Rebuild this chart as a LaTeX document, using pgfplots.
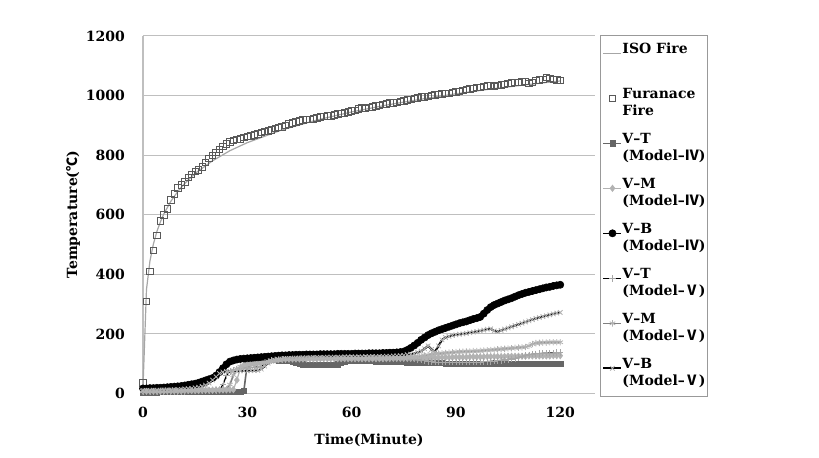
\documentclass[border=0pt]{standalone}
\usepackage{pgfplots}
\pgfplotsset{compat=1.18}
\usepackage{pgfplotstable}
\usepackage{fontspec}
\setmainfont{DejaVu Serif}
\newfontfamily\cjk{Noto Sans CJK KR}
\definecolor{isogray}{HTML}{A6A6A6}
\definecolor{gridgray}{HTML}{BFBFBF}
\pgfplotstableread{
t furn vt4 vm4 vb4 vt5 vm5 vb5
0 35 4 8 17 6 8 10
1 310 4 8 17 6 8 10
2 410 4 8 18 6 8 10
3 480 4 8 18 6 8 11
4 530 4 8 19 6 8 11
5 580 5 8 19 6 9 11
6 600 5 9 20 6 9 12
7 620 5 9 21 7 9 12
8 650 5 9 22 7 9 12
9 670 5 9 23 7 9 13
10 690 5 9 24 7 9 13
11 700 5 9 25 7 10 14
12 710 5 10 27 7 10 15
13 725 5 10 29 8 10 16
14 735 5 10 31 8 10 17
15 745 5 10 33 8 10 19
16 750 6 10 36 8 11 21
17 760 6 11 40 9 11 24
18 775 6 11 44 9 11 28
19 790 6 11 48 9 12 35
20 800 6 11 52 10 12 45
21 810 6 12 60 10 13 56
22 820 6 12 72 11 13 67
23 830 6 12 85 30 14 72
24 838 6 12 98 60 15 74
25 845 7 13 107 74 30 75
26 850 7 13 111 79 62 75
27 852 7 45 114 82 82 75
28 855 7 85 116 84 90 76
29 860 8 95 117 85 94 76
30 862 100 98 118 86 96 76
31 865 105 100 119 87 97 77
32 868 108 102 120 88 98 77
33 872 110 104 121 89 99 78
34 876 111 106 122 92 100 82
35 880 112 108 123 100 104 92
36 882 112 110 124 106 108 102
37 885 112 112 125 110 111 108
38 890 112 113 126 112 113 111
39 893 111 114 127 113 114 114
40 895 111 115 128 114 115 116
41 900 110 116 128 114 115 117
42 905 110 116 129 115 115 118
43 908 108 116 129 115 116 118
44 912 105 116 130 115 116 119
45 915 100 116 130 115 116 119
46 918 98 116 130 116 116 120
47 920 97 116 131 116 116 120
48 920 97 116 131 116 117 120
49 922 96 116 131 116 117 121
50 925 96 116 131 116 117 121
51 928 96 117 132 116 117 121
52 930 96 117 132 116 117 121
53 932 96 117 132 116 117 122
54 932 97 117 132 116 117 122
55 935 97 117 132 116 118 122
56 938 98 117 133 116 118 122
57 940 105 117 133 116 118 122
58 942 108 117 133 116 118 123
59 945 109 117 133 116 118 123
60 948 110 117 133 116 118 123
61 950 110 117 134 116 118 123
62 955 110 117 134 116 118 123
63 958 110 117 134 116 118 123
64 956 109 117 134 116 118 124
65 960 109 117 135 116 119 124
66 962 109 117 135 116 119 124
67 965 108 117 135 116 119 124
68 968 108 117 135 117 119 124
69 970 108 117 136 117 119 125
70 972 107 117 136 117 119 125
71 975 107 118 137 117 119 125
72 976 107 118 137 117 119 126
73 978 106 118 138 117 119 126
74 980 106 118 139 117 120 127
75 982 106 118 141 117 120 128
76 985 105 118 146 117 120 130
77 988 105 118 153 116 121 132
78 990 104 118 161 115 122 134
79 992 104 118 170 114 123 138
80 995 103 118 180 112 125 142
81 996 103 118 188 110 127 150
82 998 103 119 196 108 129 160
83 1000 102 119 202 107 131 148
84 1002 102 120 207 106 133 140
85 1003 102 120 212 106 134 160
86 1005 102 121 216 105 135 180
87 1007 101 121 220 105 136 188
88 1008 101 121 224 105 137 192
89 1010 101 122 228 105 138 195
90 1012 101 122 232 105 139 197
91 1015 100 122 236 105 140 199
92 1018 100 122 239 105 140 200
93 1020 100 122 242 105 141 202
94 1022 100 123 246 105 141 204
95 1025 100 123 250 105 142 206
96 1027 100 123 253 106 142 208
97 1028 100 123 257 106 143 210
98 1030 100 123 268 107 144 213
99 1032 100 124 280 107 145 216
100 1034 100 124 290 108 146 217
101 1030 100 124 297 109 147 210
102 1035 100 124 302 110 148 208
103 1036 100 124 307 111 149 212
104 1038 100 124 312 112 150 216
105 1040 100 125 316 114 151 220
106 1042 100 125 320 116 152 224
107 1044 100 125 325 118 153 228
108 1045 100 125 330 121 154 232
109 1046 100 125 334 125 155 236
110 1048 100 125 338 128 156 240
111 1040 100 126 341 130 160 244
112 1045 100 126 344 132 166 248
113 1050 100 126 347 133 169 252
114 1052 100 126 350 134 170 255
115 1055 100 126 353 135 171 258
116 1060 100 126 356 135 171 261
117 1058 100 126 358 136 172 264
118 1055 100 127 361 136 172 267
119 1052 100 127 363 137 172 270
120 1050 100 127 365 137 172 272
}\data
\pgfplotstableread{
t iso
0 20
1 349
2 445
3 502
4 544
5 576
6 603
8 645
10 678
12 705
15 739
20 781
25 815
30 842
40 885
50 918
60 945
70 968
80 988
90 1006
100 1022
110 1036
120 1049
}\iso
\newcommand{\two}[2]{\begin{tabular}[t]{@{}l@{}}#1\\#2\end{tabular}}
\begin{document}
\begin{tikzpicture}[font=\fontsize{7}{8.5}\selectfont\bfseries]
\useasboundingbox (-71.5pt,-32.25pt) rectangle (338pt,196.75pt);
\begin{axis}[
  at={(0,0)}, anchor=south west, scale only axis,
  width=226pt, height=178.75pt,
  xmin=0, xmax=130, ymin=0, ymax=1200,
  xtick={0,30,60,90,120}, ytick={0,200,400,600,800,1000,1200},
  axis lines*=left,
  axis line style={draw=gridgray, line width=0.6pt, -},
  ymajorgrids, grid style={gridgray, line width=0.5pt},
  major tick length=0pt,
  /pgf/number format/assume math mode=true,
  /pgf/number format/1000 sep={},
  xticklabel style={yshift=-3.5pt},
  yticklabel style={xshift=-5.5pt},
  xlabel={Time(Minute)},
  ylabel={Temperature({\cjk ℃})},
  xlabel style={at={(axis description cs:0.5,-0.13)}, anchor=center},
  ylabel style={at={(axis description cs:-0.155,0.5)}, anchor=center},
  clip=false,
  legend cell align=left,
  legend style={at={(1.011,1.003)}, anchor=north west, draw=gridgray!80!black, line width=0.5pt,
    inner xsep=1pt, inner ysep=3pt, row sep=5.5pt,
    cells={anchor=base west},
    nodes={inner sep=0pt, text depth=},
    /tikz/every even column/.append style={column sep=2pt}},
  legend image code/.code={\draw[mark repeat=2,mark phase=2] plot coordinates {(0pt,0pt)(4.5pt,0pt)(9pt,0pt)};},
]
\addplot[isogray, line width=0.6pt, no marks] table[x=t,y=iso]{\iso};
\addlegendentry{\two{ISO Fire}{\mbox{}}}
\addplot[only marks, mark=square, mark size=1.6pt, mark options={draw=black!65, line width=0.4pt}] table[x=t,y=furn]{\data};
\addlegendentry{\two{Furanace}{Fire}}
\addplot[black!60, line width=0.8pt, mark=square*, mark size=1.3pt, mark options={fill=black!60, line width=0.3pt}] table[x=t,y=vt4]{\data};
\addlegendentry{\two{V–T}{(Model–{\cjk Ⅳ})}}
\addplot[black!30, line width=0.6pt, mark=diamond*, mark size=1.6pt, mark options={fill=black!30, line width=0.3pt}] table[x=t,y=vm4]{\data};
\addlegendentry{\two{V–M}{(Model–{\cjk Ⅳ})}}
\addplot[black, line width=0.6pt, mark=*, mark size=1.8pt, mark options={line width=0.3pt}] table[x=t,y=vb4]{\data};
\addlegendentry{\two{V–B}{(Model–{\cjk Ⅳ})}}
\addplot[black, line width=0.6pt, mark=+, mark size=1.6pt, mark options={draw=black!35, line width=0.4pt}] table[x=t,y=vt5]{\data};
\addlegendentry{\two{V–T}{(Model–{\cjk Ⅴ})}}
\addplot[black!50, line width=0.8pt, mark=asterisk, mark size=1.6pt, mark options={draw=black!30, line width=0.4pt}] table[x=t,y=vm5]{\data};
\addlegendentry{\two{V–M}{(Model–{\cjk Ⅴ})}}
\addplot[black, line width=1pt, mark=x, mark size=1.6pt, mark options={draw=black!30, line width=0.4pt}] table[x=t,y=vb5]{\data};
\addlegendentry{\two{V–B}{(Model–{\cjk Ⅴ})}}
\end{axis}
\end{tikzpicture}
\end{document}
